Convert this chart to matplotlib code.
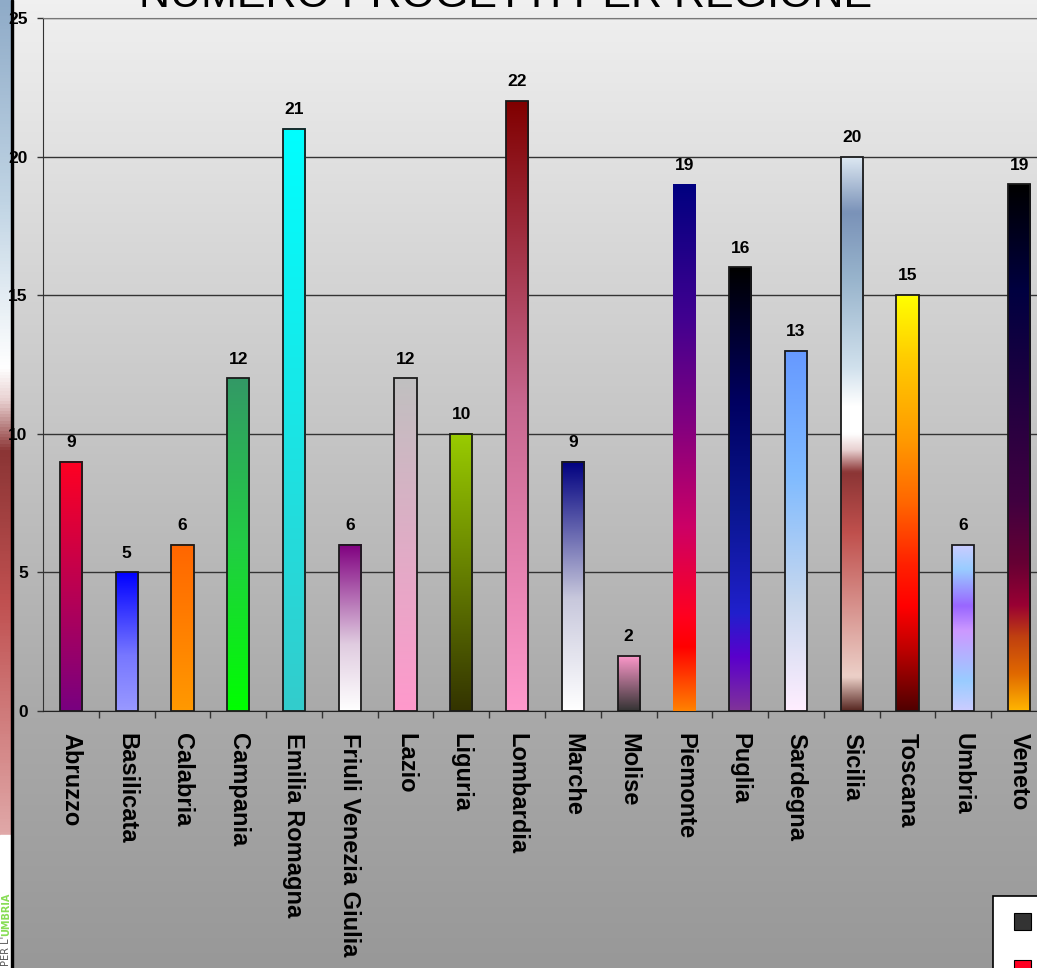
import matplotlib.pyplot as plt
import numpy as np
from matplotlib.colors import to_rgb
from matplotlib.patches import Rectangle

regioni = ['Abruzzo', 'Basilicata', 'Calabria', 'Campania', 'Emilia Romagna',
           'Friuli Venezia Giulia', 'Lazio', 'Liguria', 'Lombardia', 'Marche',
           'Molise', 'Piemonte', 'Puglia', 'Sardegna', 'Sicilia', 'Toscana',
           'Umbria', 'Veneto']
progetti = [9, 5, 6, 12, 21, 6, 12, 10, 22, 9, 2, 19, 16, 13, 20, 15, 6, 19]

# gradient stops for each bar, top -> bottom
sfumature = [
    [(0, '#ff0022'), (1, '#780080')],
    [(0, '#0000ff'), (0.6, '#7777ff'), (1, '#9999ff')],
    [(0, '#ff6600'), (1, '#ff9900')],
    [(0, '#339966'), (0.5, '#22cc44'), (1, '#00ff00')],
    [(0, '#00ffff'), (1, '#33cccc')],
    [(0, '#800080'), (0.6, '#e0cce0'), (1, '#ffffff')],
    [(0, '#c0c0c0'), (1, '#ff99cc')],
    [(0, '#99cc00'), (1, '#333300')],
    [(0, '#800000'), (0.5, '#c86890'), (1, '#ff99cc')],
    [(0, '#000080'), (0.55, '#c8c8dc'), (1, '#ffffff')],
    [(0, '#ff99cc'), (1, '#333333')],
    [(0, '#000080'), (0.25, '#400090'), (0.45, '#800080'), (0.65, '#cc0066'),
     (0.82, '#ff0020'), (0.88, '#ff0000'), (1, '#ff8000')],
    [(0, '#000000'), (0.3, '#000060'), (0.55, '#0a1690'), (0.78, '#2020cc'),
     (0.88, '#5a00cc'), (1, '#803399')],
    [(0, '#6699ff'), (0.35, '#80bbff'), (0.7, '#c8d8ee'), (1, '#ffeeff')],
    [(0, '#dde8f2'), (0.10, '#7a92b8'), (0.22, '#98b4cc'), (0.38, '#d0e0ec'),
     (0.45, '#ffffff'), (0.5, '#ffffff'), (0.53, '#e8d0d0'), (0.57, '#8b3535'),
     (0.68, '#c0504d'), (0.82, '#d89590'), (0.94, '#ecd0c8'), (1, '#5a2a25')],
    [(0, '#ffff00'), (0.15, '#ffcc00'), (0.35, '#ff9900'), (0.5, '#ff6600'),
     (0.65, '#ff2000'), (0.75, '#ff0000'), (0.85, '#c00000'), (1, '#500000')],
    [(0, '#ccccff'), (0.15, '#99ccff'), (0.37, '#9966ff'), (0.52, '#cc99ff'),
     (0.82, '#99ccff'), (1, '#ccccff')],
    [(0, '#000000'), (0.2, '#000040'), (0.4, '#200040'), (0.6, '#400040'),
     (0.72, '#660033'), (0.8, '#990033'), (0.86, '#c04010'), (0.93, '#e06800'),
     (1, '#ffb400')],
]


def gradiente(stops, n=256):
    t = np.linspace(0, 1, n)
    pos = [s[0] for s in stops]
    cols = np.array([to_rgb(s[1]) for s in stops])
    img = np.stack([np.interp(t, pos, cols[:, k]) for k in range(3)], axis=-1)
    return img[:, None, :]


W, H = 1037, 968
fig = plt.figure(figsize=(W / 100, H / 100), dpi=100)

# background gradient
bg = fig.add_axes([0, 0, 1, 1], zorder=-10)
bg.imshow(gradiente([(0, '#f0f0f0'), (0.73, '#aaaaaa'), (1, '#989898')]),
          aspect='auto', extent=[0, 1, 0, 1])
bg.set_xlim(0, 1)
bg.set_ylim(0, 1)
bg.axis('off')

# left decorative strip
strip = fig.add_axes([0, 133 / H, 12 / W, 835 / H], zorder=-5)
strip.imshow(gradiente([(0, '#8fabc8'), (0.24, '#c0d4e4'), (0.44, '#ffffff'),
                        (0.48, '#e8d0d0'), (0.54, '#8b3535'), (0.72, '#c05050'),
                        (1, '#e0a8a8')]),
             aspect='auto', extent=[0, 1, 0, 1])
strip.axis('off')
fig.add_artist(Rectangle((11 / W, 0), 2 / W, 1, transform=fig.transFigure,
                         color='black', zorder=5))
fig.add_artist(Rectangle((0, 0), 11 / W, 133 / H, transform=fig.transFigure,
                         color='white', zorder=4))
fig.text(6 / W, 2 / H, "PER L'", rotation=90, fontsize=7, color='#555555',
         ha='center', va='bottom', zorder=6)
fig.text(6 / W, 32 / H, "UMBRIA", rotation=90, fontsize=7, color='#88dd55',
         fontweight='bold', ha='center', va='bottom', zorder=6)

ax = fig.add_axes([43 / W, 257 / H, 1004 / W, 693 / H])
ax.patch.set_alpha(0)

larg = 0.4
for i, (v, st) in enumerate(zip(progetti, sfumature)):
    ax.imshow(gradiente(st), aspect='auto', extent=[i - larg / 2, i + larg / 2, 0, v],
              zorder=3, interpolation='bilinear')
    if regioni[i] != 'Piemonte':
        ax.add_patch(Rectangle((i - larg / 2, 0), larg, v, fill=False,
                               edgecolor='#1a1a1a', lw=1.3, zorder=4))
    ax.annotate(str(v), (i, v), xytext=(0, 8.5), textcoords='offset points',
                ha='center', va='bottom', fontsize=12.5, fontweight='bold',
                family='Liberation Sans')

ax.set_xlim(-0.5, len(regioni) - 0.5)
ax.set_ylim(0, 25)

ax.set_yticks([0, 5, 10, 15, 20, 25])
ax.yaxis.grid(True, color='#333333', lw=1)
ax.set_axisbelow(True)
ax.tick_params(axis='y', direction='out', length=4.5, width=1, color='#333333',
               pad=6.5)
for lab in ax.get_yticklabels():
    lab.set_fontweight('bold')
    lab.set_fontsize(12.5)
    lab.set_family('Liberation Sans')

ax.set_xticks(range(len(regioni)))
ax.set_xticklabels(regioni, rotation=-90, fontsize=17, fontweight='bold',
                   family='Liberation Sans', va='top', ha='center')
ax.set_xticks(np.arange(0.5, len(regioni) - 0.5, 1), minor=True)
ax.tick_params(axis='x', which='major', length=0, pad=16)
ax.tick_params(axis='x', which='minor', direction='out', length=5, width=1,
               color='#333333')

ax.spines['left'].set_color('#333333')
ax.spines['bottom'].set_color('#222222')
ax.spines['top'].set_color('#777777')
ax.spines['right'].set_visible(False)

fig.text(506 / W, 1 - 7 / H, 'NUMERO PROGETTI PER REGIONE', ha='center',
         va='baseline', fontsize=31, family='Liberation Sans', color='black')

# legend box (cut at the border)
fig.add_artist(Rectangle((993 / W, -5 / H), 60 / W, 77 / H, transform=fig.transFigure,
                         facecolor='white', edgecolor='black', lw=1.2, zorder=6))
fig.add_artist(Rectangle((1014 / W, 38 / H), 17 / W, 17 / H, transform=fig.transFigure,
                         facecolor='#333333', edgecolor='black', lw=0.8, zorder=7))
fig.add_artist(Rectangle((1014 / W, -9 / H), 17 / W, 17 / H, transform=fig.transFigure,
                         facecolor='#ff0022', edgecolor='black', lw=0.8, zorder=7))

fig.savefig('out.png', dpi=100)
